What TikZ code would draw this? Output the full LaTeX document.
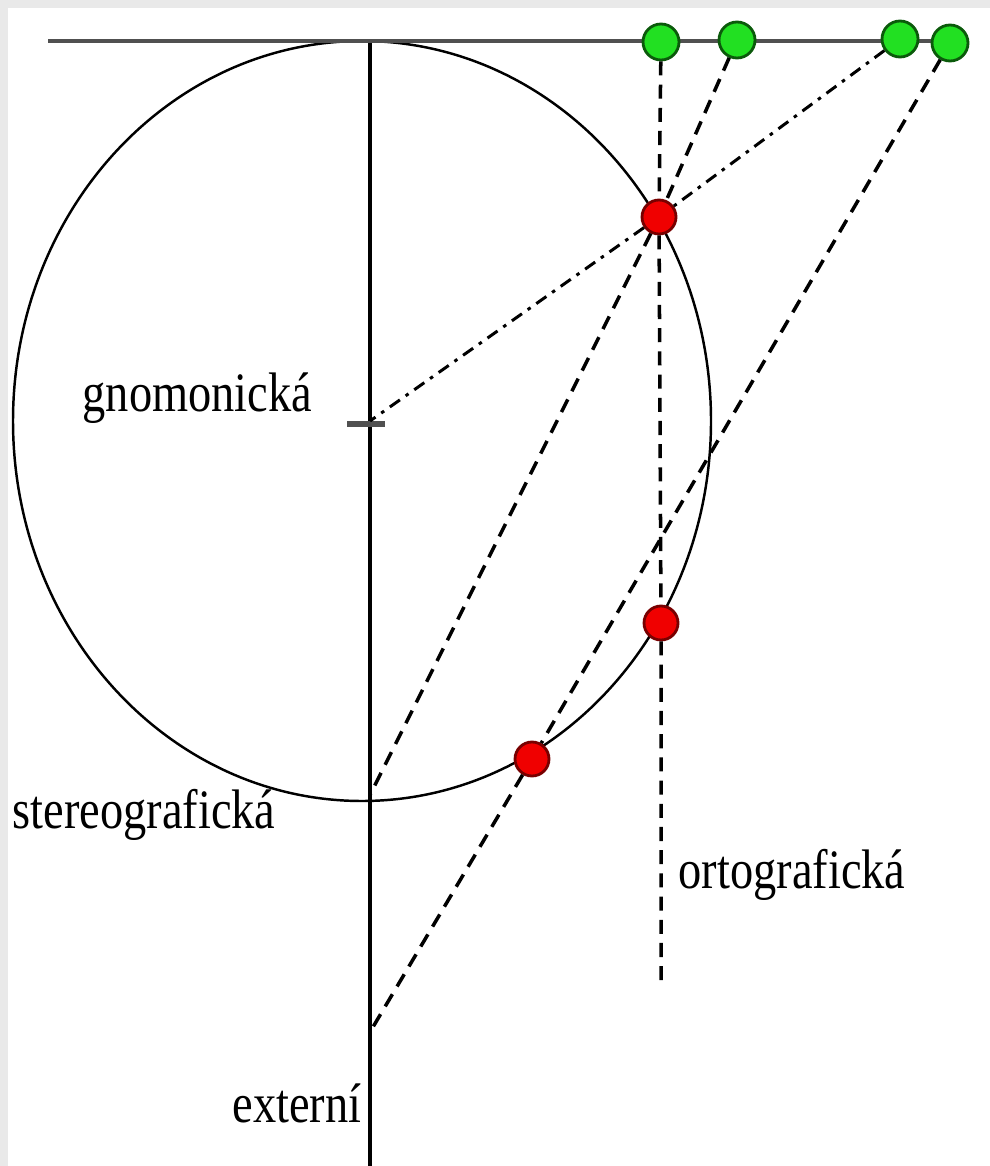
\documentclass[tikz,border=0pt]{standalone}
\usepackage{fontspec}
\setmainfont{Liberation Serif}
\usepackage{graphicx}
\usepackage{tikz}
\usetikzlibrary{positioning}

\definecolor{framegray}{HTML}{E9E9E9}
\definecolor{axisgray}{HTML}{505050}
\definecolor{dotgreen}{HTML}{22E022}
\definecolor{dotgreenline}{HTML}{0B5A0B}
\definecolor{dotred}{HTML}{F00000}
\definecolor{dotredline}{HTML}{780000}
\newcommand{\tall}[1]{\scalebox{1}[1.2]{#1}}

\begin{document}
\begin{tikzpicture}[
    x=0.1mm, y=-0.1mm,
    axis/.style={line width=0.9pt},
    sphere/.style={line width=0.7pt},
    proj/.style={line width=1pt,dash pattern=on 4pt off 2.6pt},
    gnom/.style={line width=0.85pt,dash pattern=on 3.5pt off 2pt on 1pt off 2pt},
    plane/.style={circle,draw=dotgreenline,fill=dotgreen,line width=0.8pt,minimum size=3.6mm,inner sep=0},
    point/.style={circle,draw=dotredline,fill=dotred,line width=0.8pt,minimum size=3.4mm,inner sep=0},
    lbl/.style={font=\fontsize{13.2}{15}\selectfont,inner sep=0,anchor=base west}
  ]
    % frame
    \fill[framegray] (0,0) rectangle (990,1166);
    \fill[white] (8,8) rectangle (990,1166);
    \useasboundingbox (0,0) rectangle (990,1166);

    % sphere, axis and projection plane
    \draw[sphere] (362,421) ellipse [x radius=34.9mm, y radius=38mm];
    \coordinate (top) at (370,42);
    \coordinate (bottom) at (370,1166);
    \coordinate (ctr) at (370,421);
    \coordinate (south) at (370,795);
    \coordinate (ext) at (370,1032);
    \coordinate (orthoend) at (661,980);
    \coordinate (pleft) at (48,41);
    \coordinate (pright) at (950,41);
    \draw[axis] (top) -- (bottom);
    \draw[axisgray,line width=1.15pt] (pleft) -- (pright);
    \draw[axisgray,line width=1.5pt] (347,424) -- (385,424);

    % points on the sphere and their images
    \node[plane] (g1) at (661,42) {};
    \node[plane] (g2) at (737,40) {};
    \node[plane] (g3) at (900,39) {};
    \node[plane] (g4) at (950,43) {};
    \node[point] (r1) at (659,217) {};
    \node[point] (r2) at (661,623) {};
    \node[point] (r3) at (532,759) {};

    \draw[proj] (g1) -- (r1) -- (r2) -- (orthoend);
    \draw[proj] (g2) -- (r1) -- (south);
    \draw[gnom] (g3) -- (r1) -- (ctr);
    \draw[proj] (g4) -- (r3) -- (ext);

    % labels
    \node[lbl] (gnomlbl) at (82,412) {\tall{gnomonická}};
    \node[lbl] (stereolbl) at (12,828) {\tall{stereografická}};
    \node[lbl] (ortholbl) at (678,888) {\tall{ortografická}};
    \node[lbl] (extlbl) at (232,1122) {\tall{externí}};
  \end{tikzpicture}
\end{document}
